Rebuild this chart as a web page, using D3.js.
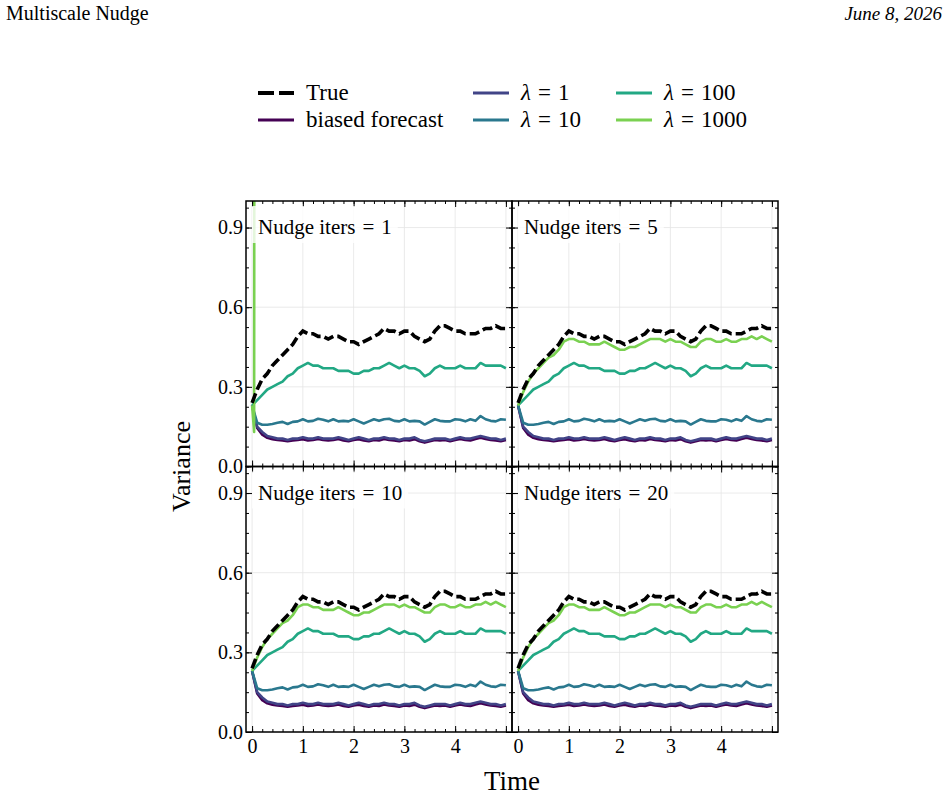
<!DOCTYPE html>
<html>
<head>
<meta charset="utf-8">
<script src="https://cdn.jsdelivr.net/npm/d3@7"></script>
<style>
  body { margin: 0; background: #fff; }
  svg { display: block; }
</style>
</head>
<body>
<div id="chart"></div>
<script>
// data
const times = [0.0, 0.1, 0.2, 0.3, 0.4, 0.5, 0.6, 0.7, 0.8, 0.9,
  1.0, 1.1, 1.2, 1.3, 1.4, 1.5, 1.6, 1.7, 1.8, 1.9,
  2.0, 2.1, 2.2, 2.3, 2.4, 2.5, 2.6, 2.7, 2.8, 2.9,
  3.0, 3.1, 3.2, 3.3, 3.4, 3.5, 3.6, 3.7, 3.8, 3.9,
  4.0, 4.1, 4.2, 4.3, 4.4, 4.5, 4.6, 4.7, 4.8, 4.9, 5.0];

const trueVar = [0.24, 0.29, 0.33, 0.35, 0.38, 0.40, 0.42, 0.44, 0.46, 0.49,
  0.51, 0.50, 0.50, 0.49, 0.49, 0.48, 0.49, 0.49, 0.48, 0.47,
  0.47, 0.46, 0.47, 0.48, 0.49, 0.50, 0.52, 0.51, 0.51, 0.50,
  0.51, 0.51, 0.49, 0.48, 0.47, 0.48, 0.51, 0.53, 0.53, 0.52,
  0.51, 0.51, 0.50, 0.50, 0.50, 0.51, 0.52, 0.52, 0.53, 0.52, 0.52];

const biasedVar = [0.23, 0.145, 0.12, 0.108, 0.103, 0.10, 0.098, 0.095, 0.098, 0.10,
  0.103, 0.098, 0.10, 0.104, 0.10, 0.098, 0.10, 0.104, 0.098, 0.095,
  0.10, 0.103, 0.098, 0.095, 0.10, 0.098, 0.104, 0.10, 0.098, 0.095,
  0.10, 0.098, 0.103, 0.095, 0.09, 0.095, 0.10, 0.098, 0.10, 0.095,
  0.10, 0.104, 0.10, 0.098, 0.104, 0.108, 0.104, 0.10, 0.098, 0.095, 0.10];

const lam1Var = [0.23, 0.15, 0.13, 0.115, 0.11, 0.105, 0.105, 0.10, 0.105, 0.105,
  0.11, 0.105, 0.105, 0.11, 0.105, 0.105, 0.105, 0.11, 0.105, 0.10,
  0.105, 0.11, 0.105, 0.10, 0.105, 0.105, 0.11, 0.105, 0.105, 0.10,
  0.105, 0.105, 0.11, 0.10, 0.095, 0.10, 0.105, 0.105, 0.105, 0.10,
  0.105, 0.11, 0.105, 0.105, 0.11, 0.115, 0.11, 0.105, 0.105, 0.10, 0.105];

const lam10Var = [0.23, 0.165, 0.157, 0.157, 0.16, 0.165, 0.168, 0.16, 0.168, 0.17,
  0.178, 0.17, 0.172, 0.18, 0.176, 0.17, 0.178, 0.17, 0.172, 0.17,
  0.178, 0.17, 0.162, 0.17, 0.178, 0.172, 0.178, 0.18, 0.172, 0.17,
  0.178, 0.17, 0.172, 0.17, 0.158, 0.168, 0.178, 0.172, 0.17, 0.17,
  0.178, 0.176, 0.17, 0.178, 0.172, 0.19, 0.178, 0.172, 0.17, 0.178, 0.176];

const lam100Var = [0.23, 0.25, 0.27, 0.29, 0.30, 0.31, 0.32, 0.34, 0.35, 0.37,
  0.38, 0.39, 0.38, 0.38, 0.37, 0.37, 0.37, 0.36, 0.36, 0.36,
  0.35, 0.35, 0.36, 0.36, 0.37, 0.37, 0.38, 0.39, 0.38, 0.37,
  0.38, 0.37, 0.37, 0.36, 0.34, 0.35, 0.37, 0.38, 0.37, 0.37,
  0.37, 0.38, 0.37, 0.37, 0.37, 0.39, 0.38, 0.38, 0.38, 0.38, 0.37];

const lam1000Var = [0.23, 0.28, 0.32, 0.35, 0.37, 0.39, 0.41, 0.42, 0.44, 0.47,
  0.48, 0.48, 0.47, 0.47, 0.46, 0.46, 0.46, 0.47, 0.46, 0.45,
  0.44, 0.44, 0.45, 0.45, 0.46, 0.47, 0.48, 0.48, 0.48, 0.47,
  0.48, 0.47, 0.47, 0.46, 0.45, 0.45, 0.47, 0.48, 0.48, 0.47,
  0.47, 0.48, 0.47, 0.47, 0.48, 0.48, 0.49, 0.48, 0.49, 0.48, 0.47];

// lambda = 1000 with a single nudge iteration blows up right away
const lam1000DivTimes = [0.0, 0.04, 0.05];
const lam1000DivVar = [0.23, 0.13, 3.0];

const nudgeIters = [1, 5, 10, 20];
const seriesNames = ["True", "biased forecast", "λ = 1", "λ = 10", "λ = 100", "λ = 1000"];
const xTicks = [0, 1, 2, 3, 4, 5];
const xTickLabels = ["0", "1", "2", "3", "4", ""];
const yTicks = [0, 0.3, 0.6, 0.9];
const yTickLabels = ["0.0", "0.3", "0.6", "0.9"];

/**
 * LAYOUT
 * */
const width = 948, height = 797;
const panelLeft = 246, panelTop = 201, panelW = 266, panelH = 265.5;
const serif = "'Liberation Serif', 'Times New Roman', serif";

const colors = [0, 0.2, 0.4, 0.6, 0.8].map(d3.interpolateViridis);

const svg = d3.select("#chart").append("svg")
  .attr("width", width)
  .attr("height", height)
  .style("font-family", serif);

// header
svg.append("text").attr("x", 6).attr("y", 20)
  .attr("font-size", 20).text("Multiscale Nudge");
svg.append("text").attr("x", 942).attr("y", 20)
  .attr("font-size", 19).attr("font-style", "italic")
  .attr("text-anchor", "end").text("June 8, 2026");

const x = d3.scaleLinear().domain([-0.12, 5.12]).range([0, panelW]);
const y = d3.scaleLinear().domain([0, 1]).range([panelH, 0]);

const line = d3.line()
  .x(d => x(d[0]))
  .y(d => y(d[1]));

const zip = (ts, vs) => ts.map((t, i) => [t, vs[i]]);

// math-style "a = b" with wider spacing around the sign
function mathText(sel, lhs, rhs, italicLhs) {
  sel.append("tspan").attr("font-style", italicLhs ? "italic" : null).text(lhs);
  sel.append("tspan").attr("dx", 7).text("=");
  sel.append("tspan").attr("dx", 7).text(rhs);
}

nudgeIters.forEach((it, i) => {
  const row = Math.floor(i / 2), col = i % 2;
  const g = svg.append("g")
    .attr("transform", `translate(${panelLeft + col * panelW},${panelTop + row * panelH})`);

  g.append("clipPath").attr("id", "clip" + i)
    .append("rect").attr("width", panelW).attr("height", panelH);

  // grid
  g.append("g").selectAll("line").data(xTicks).join("line")
    .attr("x1", d => x(d)).attr("x2", d => x(d))
    .attr("y1", 0).attr("y2", panelH)
    .attr("stroke", "#e4e4e4").attr("stroke-width", 0.8);
  g.append("g").selectAll("line").data(yTicks).join("line")
    .attr("y1", d => y(d)).attr("y2", d => y(d))
    .attr("x1", 0).attr("x2", panelW)
    .attr("stroke", "#e4e4e4").attr("stroke-width", 0.8);

  const plot = g.append("g").attr("clip-path", `url(#clip${i})`);
  const lam1000 = it === 1 ? zip(lam1000DivTimes, lam1000DivVar) : zip(times, lam1000Var);
  const curves = [
    { data: zip(times, biasedVar), color: colors[0] },
    { data: zip(times, lam1Var), color: colors[1] },
    { data: zip(times, lam10Var), color: colors[2] },
    { data: zip(times, lam100Var), color: colors[3] },
    { data: lam1000, color: colors[4] }
  ];
  plot.selectAll("path.series").data(curves).join("path")
    .attr("class", "series")
    .attr("d", d => line(d.data))
    .attr("fill", "none")
    .attr("stroke", d => d.color)
    .attr("stroke-width", 2.6)
    .attr("stroke-linejoin", "round");
  plot.append("path")
    .attr("d", line(zip(times, trueVar)))
    .attr("fill", "none")
    .attr("stroke", "#000")
    .attr("stroke-width", 3.6)
    .attr("stroke-dasharray", "10,4");

  // ticks, inward on every side
  const xMinor = d3.range(0, 5.01, 0.2);
  const yMinor = d3.range(0, 1.0, 0.075);
  const addAxis = (axis, tx, ty) => {
    const a = g.append("g").attr("transform", `translate(${tx},${ty})`).call(axis);
    a.select(".domain").remove();
    a.selectAll(".tick line").attr("stroke", "#000").attr("stroke-width", 1);
    a.selectAll("text").attr("font-family", serif).attr("font-size", 20).attr("fill", "#000");
    return a;
  };
  addAxis(d3.axisBottom(x).tickValues(xMinor).tickSize(-3).tickFormat(""), 0, panelH);
  addAxis(d3.axisTop(x).tickValues(xMinor).tickSize(-3).tickFormat(""), 0, 0);
  addAxis(d3.axisLeft(y).tickValues(yMinor).tickSize(-3).tickFormat(""), 0, 0);
  addAxis(d3.axisRight(y).tickValues(yMinor).tickSize(-3).tickFormat(""), panelW, 0);
  addAxis(d3.axisBottom(x).tickValues(xTicks).tickSize(-6).tickPadding(7)
    .tickFormat((d, k) => row === 1 ? xTickLabels[k] : ""), 0, panelH);
  addAxis(d3.axisTop(x).tickValues(xTicks).tickSize(-6).tickFormat(""), 0, 0);
  addAxis(d3.axisLeft(y).tickValues(yTicks).tickSize(-6).tickPadding(3)
    .tickFormat((d, k) => col === 0 ? yTickLabels[k] : ""), 0, 0);
  addAxis(d3.axisRight(y).tickValues(yTicks).tickSize(-6).tickFormat(""), panelW, 0);

  // spines
  g.append("rect").attr("width", panelW).attr("height", panelH)
    .attr("fill", "none").attr("stroke", "#000").attr("stroke-width", 1.5);

  // panel label in a faint white box
  const box = g.append("rect").attr("x", 6).attr("y", 5).attr("height", 37)
    .attr("fill", "#fff").attr("fill-opacity", 0.8);
  const label = g.append("text").attr("x", 12).attr("y", 33)
    .attr("font-size", 21).call(mathText, "Nudge iters", String(it), false);
  box.attr("width", label.node().getComputedTextLength() + 26);
});

// axis titles
svg.append("text").attr("x", panelLeft + panelW).attr("y", 790)
  .attr("text-anchor", "middle").attr("font-size", 27).text("Time");
svg.append("text")
  .attr("transform", `translate(190,${panelTop + panelH}) rotate(-90)`)
  .attr("text-anchor", "middle").attr("font-size", 26).text("Variance");

// legend, three columns filled top to bottom
const legendCols = [258, 473, 616];
const legendRows = [93, 120];
const legendColors = ["#000"].concat(colors);
const legend = svg.append("g").selectAll("g").data(seriesNames).join("g")
  .attr("transform", (d, k) => `translate(${legendCols[Math.floor(k / 2)]},${legendRows[k % 2]})`);
legend.append("line")
  .attr("x1", 0).attr("x2", 36)
  .attr("stroke", (d, k) => legendColors[k])
  .attr("stroke-width", (d, k) => k === 0 ? 3.8 : 3)
  .attr("stroke-dasharray", (d, k) => k === 0 ? "16,5" : null);
legend.append("text")
  .attr("x", 48).attr("y", 7)
  .attr("font-size", 23)
  .each(function(d) {
    const t = d3.select(this);
    if (d.startsWith("λ")) {
      const parts = d.split(" = ");
      t.call(mathText, parts[0], parts[1], true);
    } else {
      t.text(d);
    }
  });
</script>
</body>
</html>
